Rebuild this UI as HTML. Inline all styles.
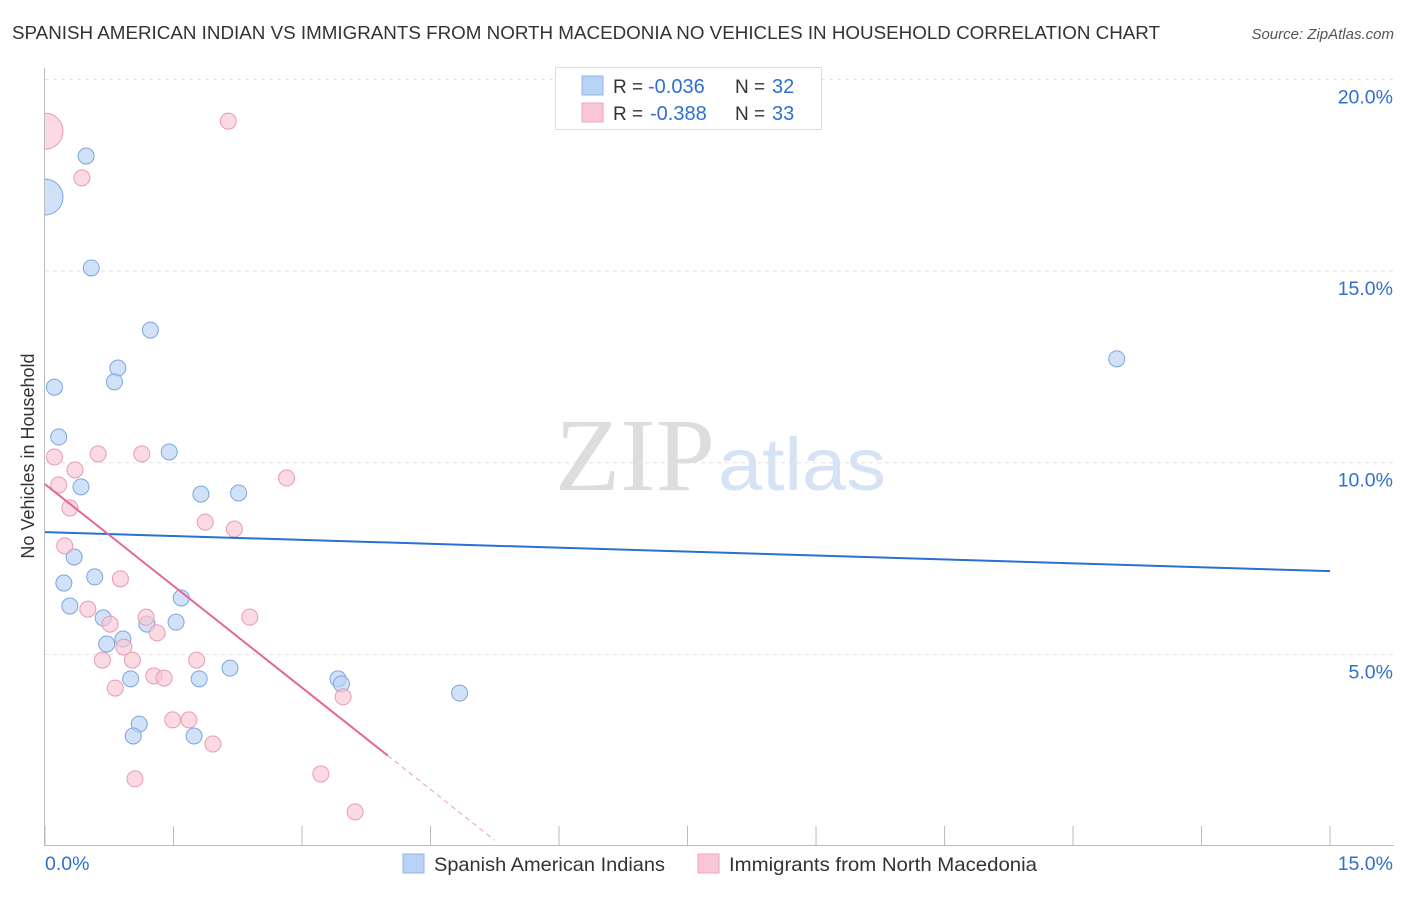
<!DOCTYPE html>
<html><head><meta charset="utf-8"><style>
body{margin:0;background:#fff;font-family:"Liberation Sans",sans-serif;}
</style></head><body>
<svg id="c" width="1406" height="892" xmlns="http://www.w3.org/2000/svg">
<defs><clipPath id="plot"><rect x="45" y="60" width="1360" height="786"/></clipPath></defs>
<text x="12" y="39" font-size="18" fill="#333" textLength="1148" lengthAdjust="spacingAndGlyphs">SPANISH AMERICAN INDIAN VS IMMIGRANTS FROM NORTH MACEDONIA NO VEHICLES IN HOUSEHOLD CORRELATION CHART</text>
<text x="1394" y="39" font-size="15" fill="#555" font-style="italic" text-anchor="end">Source: ZipAtlas.com</text>
<text x="34" y="456" font-size="18" fill="#333" text-anchor="middle" transform="rotate(-90 34 456)">No Vehicles in Household</text>
<text x="555" y="490" font-size="104" fill="#ddd" textLength="160" lengthAdjust="spacingAndGlyphs" font-family="Liberation Serif,serif">ZIP</text>
<text x="718" y="490" font-size="74" fill="#d6e3f5" textLength="168" lengthAdjust="spacingAndGlyphs">atlas</text>
<g id="grid"></g><g id="marks" clip-path="url(#plot)"></g>
<g>
<rect x="555.5" y="67.5" width="266" height="62" fill="#fff" stroke="#ddd"/>
<rect x="582" y="76" width="21" height="19" fill="#b9d3f5" stroke="#90b6e8"/>
<rect x="582" y="103" width="21" height="19" fill="#f9c6d5" stroke="#eea5bc"/>
<text x="613" y="93" font-size="19" fill="#333">R =</text>
<text x="648" y="93" font-size="20" fill="#2f6fd1">-0.036</text>
<text x="735" y="93" font-size="19" fill="#333">N =</text>
<text x="772" y="93" font-size="20" fill="#2f6fd1">32</text>
<text x="613" y="120" font-size="19" fill="#333">R =</text>
<text x="650" y="120" font-size="20" fill="#2f6fd1">-0.388</text>
<text x="735" y="120" font-size="19" fill="#333">N =</text>
<text x="772" y="120" font-size="20" fill="#2f6fd1">33</text>
</g>
<g>
<rect x="403" y="854" width="21" height="19" fill="#b9d3f5" stroke="#90b6e8"/>
<text x="434" y="871" font-size="19.5" fill="#333" textLength="231" lengthAdjust="spacingAndGlyphs">Spanish American Indians</text>
<rect x="698" y="854" width="21" height="19" fill="#f9c6d5" stroke="#eea5bc"/>
<text x="729" y="871" font-size="19.5" fill="#333" textLength="308" lengthAdjust="spacingAndGlyphs">Immigrants from North Macedonia</text>
</g>
</svg>
<script>
const blueX=[0,0.48,0.54,1.23,0.85,0.81,0.11,0.16,1.45,0.42,1.82,2.26,0.34,0.58,0.22,0.29,1.59,0.68,1.19,1.53,0.72,0.91,1.00,1.80,2.16,3.42,3.46,4.84,1.10,1.03,1.74,12.51];
const blueY=[16.93,18.0,15.08,13.46,12.47,12.11,11.97,10.67,10.28,9.37,9.18,9.21,7.54,7.02,6.86,6.26,6.47,5.95,5.79,5.84,5.27,5.40,4.36,4.36,4.64,4.36,4.23,3.99,3.18,2.87,2.87,12.71];
const pinkX=[0,2.14,0.43,0.11,0.62,1.13,0.35,0.16,0.29,2.82,1.87,2.21,0.23,0.88,0.50,1.18,0.76,2.39,1.31,0.92,0.67,1.02,1.77,1.27,1.39,0.82,3.48,1.49,1.68,1.96,3.22,1.05,3.62];
const pinkY=[18.65,18.91,17.43,10.15,10.23,10.23,9.81,9.42,8.82,9.60,8.45,8.27,7.83,6.97,6.18,5.97,5.79,5.97,5.56,5.19,4.85,4.85,4.85,4.44,4.38,4.12,3.89,3.29,3.29,2.66,1.88,1.75,0.89];
const blueTrend=[8.19,7.17];
const pinkTrend=[9.44,-1.77];
const yTicks=[5,10,15,20];
const NS="http://www.w3.org/2000/svg";
const sx=v=>45+v*85.67, sy=v=>846-v*38.33;
function mk(t,a,p){const e=document.createElementNS(NS,t);for(const k in a)e.setAttribute(k,a[k]);p.appendChild(e);return e;}
const g=document.getElementById('grid'),m=document.getElementById('marks');
yTicks.forEach(t=>{
 const l=mk('line',{x1:45,x2:1394,y1:sy(t),y2:sy(t),stroke:'#e2e2e2','stroke-dasharray':'4,4'},g);
 
 
 const tx=mk('text',{x:1393,y:sy(t)+24,'font-size':19.5,fill:'#2f6fd1','text-anchor':'end'},g);
 tx.textContent=t.toFixed(1)+'%';
 
 
});
mk('line',{x1:44.5,x2:44.5,y1:68,y2:846,stroke:'#bbb'},g);
mk('line',{x1:44,x2:1394,y1:845.5,y2:845.5,stroke:'#bbb'},g);
for(let i=0;i<=10;i++){const x=sx(i*1.5);mk('line',{x1:x,x2:x,y1:826,y2:846,stroke:'#bbb'},g);}
const x0=mk('text',{x:45,y:870,'font-size':19.5,fill:'#2f6fd1'},g);x0.textContent='0.0%';


const x1=mk('text',{x:1393,y:870,'font-size':19.5,fill:'#2f6fd1','text-anchor':'end'},g);x1.textContent='15.0%';


function dots(X,Y,fill,stroke,name){X.forEach((x,i)=>{const big=(x===0);
 const c=mk('circle',{cx:sx(x),cy:sy(Y[i]),r:big?18:8,fill:fill,'fill-opacity':0.65,stroke:stroke,'stroke-width':1},m);
 
 });}
dots(blueX,blueY,'#b9d3f5','#7aa6e0','blue-point');
dots(pinkX,pinkY,'#f9c6d5','#e99ab4','pink-point');
const bl=mk('line',{x1:sx(0),y1:sy(blueTrend[0]),x2:sx(15),y2:sy(blueTrend[1]),stroke:'#2a6fd3','stroke-width':2},m);


const pe=n=>pinkTrend[0]+pinkTrend[1]*n;
const pl=mk('line',{x1:sx(0),y1:sy(pe(0)),x2:sx(4.0),y2:sy(pe(4.0)),stroke:'#e5679a','stroke-width':2},m);


const pd=mk('line',{x1:sx(4.0),y1:sy(pe(4.0)),x2:sx(5.25),y2:sy(pe(5.25)),stroke:'#e5a0b8','stroke-width':1,'stroke-dasharray':'5,4'},m);


</script>
</body></html>
